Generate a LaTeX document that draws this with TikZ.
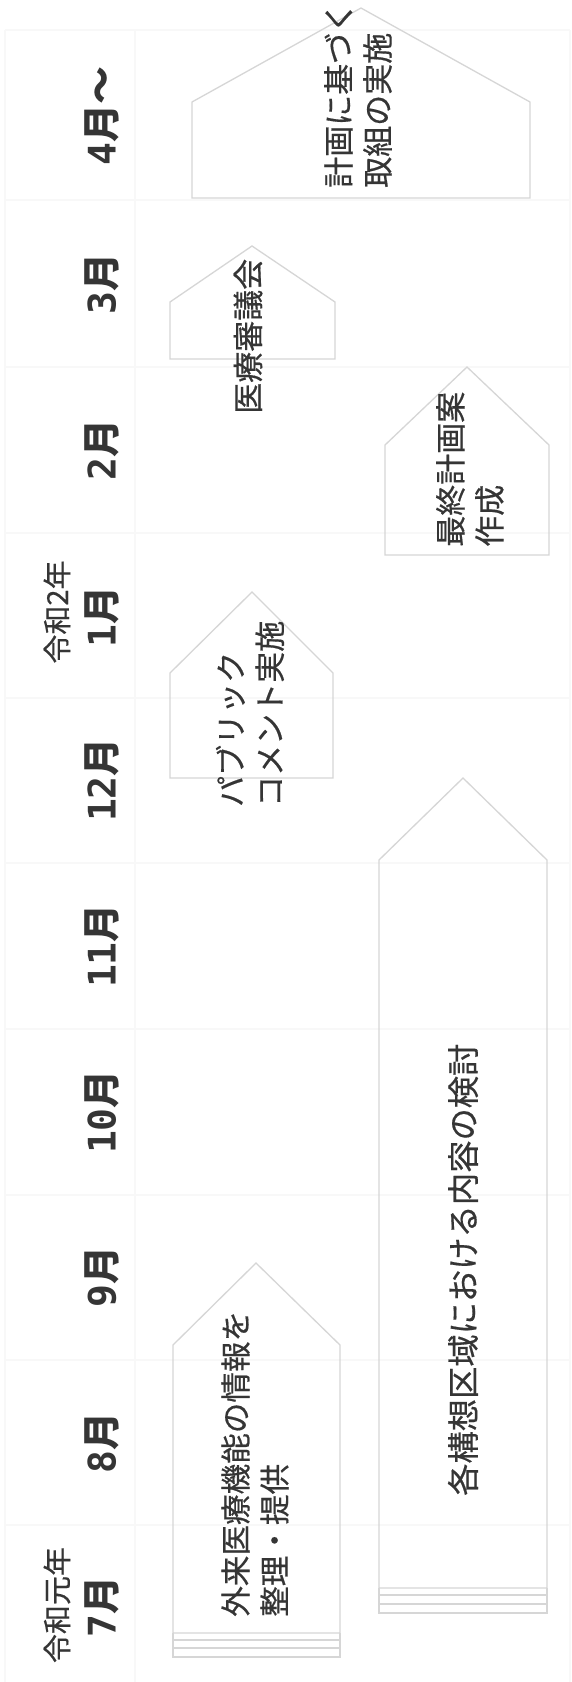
\documentclass[tikz,border=0pt]{standalone}
\usepackage{fontspec}
\newfontfamily\jp{Noto Sans CJK JP}
\newfontfamily\jpm{Noto Sans CJK JP}[FakeBold=0.5]
\newfontfamily\dmono{DejaVu Sans Mono}
\newcommand{\dg}[1]{{\dmono\bfseries #1}}
\definecolor{txt}{HTML}{353535}
\definecolor{edge}{HTML}{D6D6D6}
\definecolor{grid}{HTML}{F8F8F8}
\tikzset{
  month/.style={rotate=90, text=txt, font=\jp\bfseries\fontsize{38}{42}\selectfont, inner sep=0pt, anchor=center},
  era/.style={rotate=90, text=txt, font=\jpm\fontsize{29}{34}\selectfont, inner sep=0pt, anchor=center},
  task/.style={rotate=90, text=txt, font=\jpm\fontsize{31}{39}\selectfont, inner sep=0pt, anchor=west, align=left},
  house/.style={draw=edge, line width=1.3pt, line join=miter},
  stack/.style={draw=edge, line width=1.1pt},
  gridline/.style={draw=grid, line width=1.3pt}
}
\begin{document}
\begin{tikzpicture}[x=1pt, y=-1pt]
\useasboundingbox (0,0) rectangle (572,1682);
\fill[white] (0,0) rectangle (572,1682);
% faint table grid
\draw[gridline] (5,30) -- (5,1682);
\draw[gridline] (135,30) -- (135,1682);
\draw[gridline] (570,30) -- (570,1682);
\foreach \yy in {30,200,367,533,698,863,1029,1195,1360,1525}
  \draw[gridline] (5,\yy) -- (570,\yy);
% month labels
\node[month] (m4)  at (102,116)  {\dg{4}月〜};
\node[month] (m3)  at (102,284)  {\dg{3}月};
\node[month] (m2)  at (102,450)  {\dg{2}月};
\node[month] (m1)  at (102,617)  {\dg{1}月};
\node[month] (m12) at (102,780)  {\dg{12}月};
\node[month] (m11) at (102,946)  {\dg{11}月};
\node[month] (m10) at (102,1112) {\dg{10}月};
\node[month] (m9)  at (102,1277) {\dg{9}月};
\node[month] (m8)  at (102,1443) {\dg{8}月};
\node[month] (m7)  at (102,1607) {\dg{7}月};
\node[era] (r2) at (57,612)  {令和2年};
\node[era] (r1) at (57,1605) {令和元年};
% house shapes
\draw[house] (192,198) -- (192,102) -- (361,8) -- (530,102) -- (530,198) -- cycle;
\draw[house] (170,359) -- (170,302) -- (252,246) -- (335,302) -- (335,359) -- cycle;
\draw[house] (385,555) -- (385,445) -- (467,367) -- (549,445) -- (549,555) -- cycle;
\draw[house] (170,778) -- (170,673) -- (252,592) -- (333,673) -- (333,778) -- cycle;
\draw[house] (379,1588) -- (379,860) -- (463,778) -- (547,860) -- (547,1588) -- cycle;
\draw[house] (173,1633) -- (173,1345) -- (256,1263) -- (340,1345) -- (340,1633) -- cycle;
% stacked bottoms
\draw[stack] (379,1588) -- (379,1614) (547,1588) -- (547,1614);
\foreach \yy in {1595,1604,1613}
  \draw[stack] (379,\yy) -- (547,\yy);
\draw[stack] (173,1633) -- (173,1658) (340,1633) -- (340,1658);
\foreach \yy in {1640,1648,1657}
  \draw[stack] (173,\yy) -- (340,\yy);
% task texts
\node[task] (t1) at (358,188)  {計画に基づく\\取組の実施};
\node[task] (t2) at (248,414)  {医療審議会};
\node[task] (t3) at (470,547)  {最終計画案\\作成};
\node[task] (t4) at (250,807)  {パブリック\\コメント実施};
\node[task, font=\jpm\fontsize{32.3}{39}\selectfont] (t5) at (463,1496) {各構想区域における内容の検討};
\node[task, font=\jpm\fontsize{30.6}{39}\selectfont] (t6) at (255,1617) {外来医療機能の情報を\\整理・提供};
\end{tikzpicture}
\end{document}
